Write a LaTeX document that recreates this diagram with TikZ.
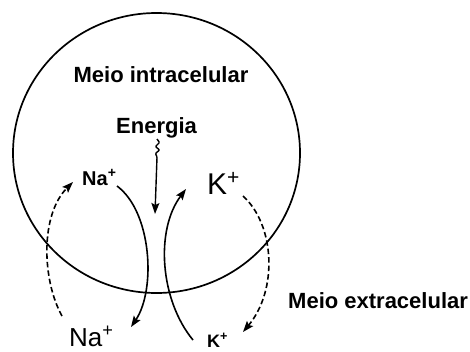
\documentclass[tikz,border=0pt]{standalone}
\usepackage{fontspec}
\setmainfont{Liberation Sans}
\usetikzlibrary{arrows.meta,shapes.geometric}
\begin{document}
\begin{tikzpicture}[x=1pt,y=-1pt,
  memb/.style={draw, line width=1.7pt, ellipse, inner sep=0pt, outer sep=0pt},
  bigbold/.style={inner sep=0pt, font=\bfseries\fontsize{22}{24}\selectfont},
  ion/.style={inner sep=0pt, anchor=base west},
  flow/.style={line width=1.6pt, -{Stealth[length=11pt,width=8pt,inset=2pt]}},
  back/.style={flow, dash pattern=on 5.5pt off 3pt}]
\useasboundingbox (0,0) rectangle (470,351);
\fill[white] (0,0) rectangle (470,351);
% cell membrane
\node[memb, minimum width=287pt, minimum height=280pt] (cell) at (156.5,153) {};
% texts
\node[bigbold, anchor=base] (intra) at (161,82) {Meio intracelular};
\node[bigbold, anchor=base] (energia) at (156.5,133) {Energia};
\node[bigbold, anchor=base west] (extra) at (288,308) {Meio extracelular};
\node[ion, font=\bfseries\fontsize{20}{22}\selectfont] (naIn) at (82,185) {Na\textsuperscript{+}};
\node[ion, font=\fontsize{30}{32}\selectfont] (kIn) at (207,194) {K\textsuperscript{+}};
\node[ion, font=\fontsize{26}{28}\selectfont] (naOut) at (69,346) {Na\textsuperscript{+}};
\node[ion, font=\bfseries\fontsize{18}{20}\selectfont] (kOut) at (207,347) {K\textsuperscript{+}};
% connector end points
\coordinate (naS) at (117,186);
\coordinate (naT) at (131,327);
\coordinate (kS) at (193,340);
\coordinate (kT) at (186,189);
\coordinate (naBS) at (62,316);
\coordinate (naBT) at (73,182);
\coordinate (kBS) at (243,196);
\coordinate (kBT) at (243,332);
\coordinate (eS) at (157,139);
\coordinate (eT) at (155,214);
% energy input
\draw[line width=1.4pt, rounded corners=0.8pt, -{Stealth[length=11pt,width=8pt,inset=2pt]}]
  (eS) -- ++(2.5,3.5) -- ++(-4,4) -- ++(4,3.5) -- ++(-4,3.5) -- ++(1.5,3.5) -- (eT);
% pump fluxes
\draw[flow] (naS) .. controls (152,212) and (156,290) .. (naT);
\draw[flow] (kS) .. controls (160,300) and (155,230) .. (kT);
% passive leaks
\draw[back] (naBS) .. controls (42,280) and (40,215) .. (naBT);
\draw[back] (kBS) .. controls (275,225) and (278,290) .. (kBT);
\end{tikzpicture}
\end{document}
